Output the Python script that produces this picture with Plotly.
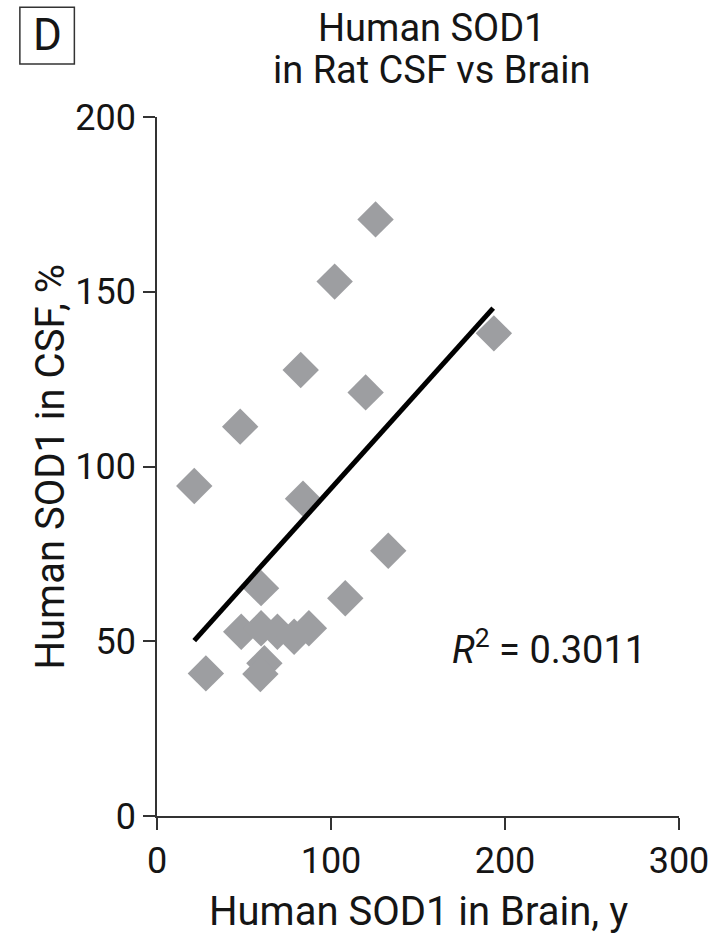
import plotly.graph_objects as go

# Data
brain_x = [125.6, 102.1, 82.6, 119.9, 47.8, 193.6, 21.4, 83.9, 132.9, 108.2,
           59.8, 48.4, 59.8, 69.2, 78.8, 87.3, 61.7, 59.4, 28.1]
csf_y = [170.7, 152.9, 127.6, 121.2, 111.4, 138.1, 94.4, 90.8, 75.9, 62.3,
         65.2, 52.7, 53.7, 52.7, 51.3, 53.7, 43.7, 40.6, 40.8]
fit_x = [21.4, 193.2]
fit_y = [50.2, 145.3]
x_ticks = [0, 100, 200, 300]
y_ticks = [0, 50, 100, 150, 200]
r2_label = "<i>R</i><sup>2</sup> = 0.3011"

FONT = "Roboto, Liberation Sans, sans-serif"
TXT = "#151515"

fig = go.Figure()
fig.add_trace(go.Scatter(
    x=brain_x, y=csf_y, mode="markers",
    marker=dict(symbol="diamond", size=28, color="#9d9ea1", line=dict(width=0)),
    showlegend=False, hoverinfo="skip"))
fig.add_trace(go.Scatter(
    x=fit_x, y=fit_y, mode="lines",
    line=dict(color="#000000", width=5),
    showlegend=False, hoverinfo="skip"))

axis_common = dict(
    showline=True, linecolor="#333333", linewidth=1.5,
    ticks="outside", ticklen=12, tickwidth=1.5, tickcolor="#333333",
    showgrid=False, zeroline=False,
    tickfont=dict(family=FONT, size=36, color=TXT),
)

fig.update_layout(
    width=721, height=938, autosize=False,
    margin=dict(l=157, r=37, t=117, b=122),
    paper_bgcolor="white", plot_bgcolor="white",
    xaxis=dict(range=[0, 300], tickvals=x_ticks, **axis_common),
    yaxis=dict(range=[0, 200], tickvals=y_ticks, **axis_common),
    annotations=[
        dict(text="Human SOD1", x=0.526, y=1.0, xref="paper", yref="paper",
             yanchor="middle", yshift=89, showarrow=False,
             font=dict(family=FONT, size=38, color=TXT)),
        dict(text="in Rat CSF vs Brain", x=0.526, y=1.0, xref="paper", yref="paper",
             yanchor="middle", yshift=47, showarrow=False,
             font=dict(family=FONT, size=38, color=TXT)),
        dict(text="Human SOD1 in Brain, y", x=0.5, y=0, xref="paper", yref="paper",
             yanchor="middle", yshift=-95, showarrow=False,
             font=dict(family=FONT, size=40, color=TXT)),
        dict(text="Human SOD1 in CSF, %", x=0, y=0.5, xref="paper", yref="paper",
             xanchor="center", xshift=-107, textangle=-90, showarrow=False,
             font=dict(family=FONT, size=40, color=TXT)),
        dict(text=r2_label, x=0.751, y=0.242, xref="paper", yref="paper",
             xanchor="center", yanchor="middle", showarrow=False,
             font=dict(family=FONT, size=38, color=TXT)),
        dict(text="D", x=-0.2101, y=1.1166, xref="paper", yref="paper",
             xanchor="center", yanchor="middle", showarrow=False,
             font=dict(family=FONT, size=44, color=TXT)),
    ],
    shapes=[
        dict(type="rect", xref="paper", yref="paper",
             x0=-0.2627, x1=-0.1583, y0=1.0758, y1=1.1569,
             line=dict(color="#333333", width=1.5)),
    ],
)

fig.write_html("out.html")
